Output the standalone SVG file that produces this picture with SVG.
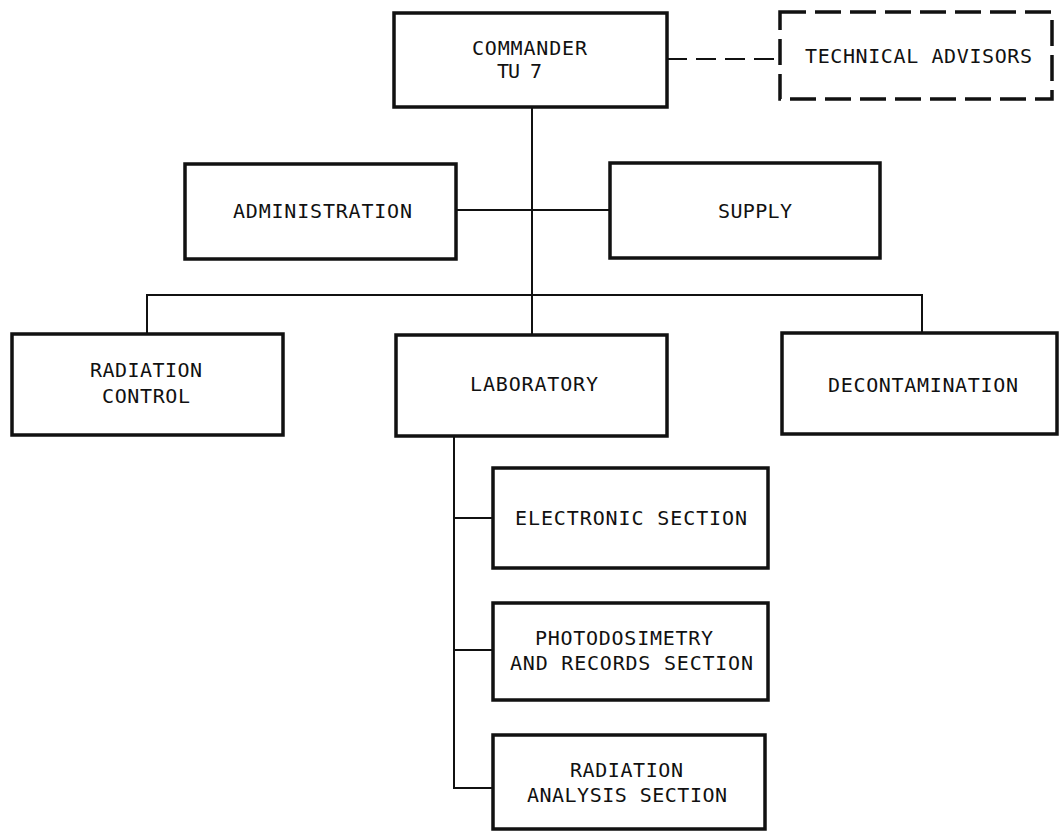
<svg xmlns="http://www.w3.org/2000/svg" width="1059" height="832" viewBox="0 0 1059 832">
<style>
.box{fill:#fff;stroke:#111;stroke-width:3.5}
.dbox{fill:#fff;stroke:#111;stroke-width:3.5;stroke-dasharray:26 9}
.ln{fill:none;stroke:#111;stroke-width:2}
.dln{fill:none;stroke:#111;stroke-width:2;stroke-dasharray:20 9}
text{font-family:"DejaVu Sans Mono","Liberation Mono",monospace;font-size:20px;fill:#111}
</style>
<rect width="1059" height="832" fill="#fff"/>
<g id="connectors">
<path class="ln" d="M532 107V335"/>
<path class="ln" d="M456 210H610"/>
<path class="ln" d="M147 334V295H922V333"/>
<path class="ln" d="M454 436V788H493M454 518H493M454 650H493"/>
<path class="dln" d="M667 59H780"/>
</g>
<g id="commander">
<rect class="box" x="394" y="13" width="273" height="94"/>
<text x="472" y="55" textLength="115" lengthAdjust="spacing">COMMANDER</text>
<text x="497" y="78" textLength="45" lengthAdjust="spacing">TU 7</text>
</g>
<g id="technical-advisors">
<rect class="dbox" x="780" y="12" width="272" height="87"/>
<text x="805" y="63" textLength="227" lengthAdjust="spacing">TECHNICAL ADVISORS</text>
</g>
<g id="administration">
<rect class="box" x="185" y="164" width="271" height="95"/>
<text x="233" y="218" textLength="179" lengthAdjust="spacing">ADMINISTRATION</text>
</g>
<g id="supply">
<rect class="box" x="610" y="163" width="270" height="95"/>
<text x="718" y="218" textLength="74" lengthAdjust="spacing">SUPPLY</text>
</g>
<g id="radiation-control">
<rect class="box" x="12" y="334" width="271" height="101"/>
<text x="90" y="377" textLength="112" lengthAdjust="spacing">RADIATION</text>
<text x="102" y="403" textLength="88" lengthAdjust="spacing">CONTROL</text>
</g>
<g id="laboratory">
<rect class="box" x="396" y="335" width="271" height="101"/>
<text x="470" y="391" textLength="128" lengthAdjust="spacing">LABORATORY</text>
</g>
<g id="decontamination">
<rect class="box" x="782" y="333" width="275" height="101"/>
<text x="828" y="392" textLength="190" lengthAdjust="spacing">DECONTAMINATION</text>
</g>
<g id="electronic-section">
<rect class="box" x="493" y="468" width="275" height="100"/>
<text x="515" y="525" textLength="232" lengthAdjust="spacing">ELECTRONIC SECTION</text>
</g>
<g id="photodosimetry-section">
<rect class="box" x="493" y="603" width="275" height="97"/>
<text x="535" y="645" textLength="178" lengthAdjust="spacing">PHOTODOSIMETRY</text>
<text x="510" y="670" textLength="243" lengthAdjust="spacing">AND RECORDS SECTION</text>
</g>
<g id="radiation-analysis-section">
<rect class="box" x="493" y="735" width="272" height="94"/>
<text x="570" y="777" textLength="113" lengthAdjust="spacing">RADIATION</text>
<text x="527" y="802" textLength="200" lengthAdjust="spacing">ANALYSIS SECTION</text>
</g>
</svg>
